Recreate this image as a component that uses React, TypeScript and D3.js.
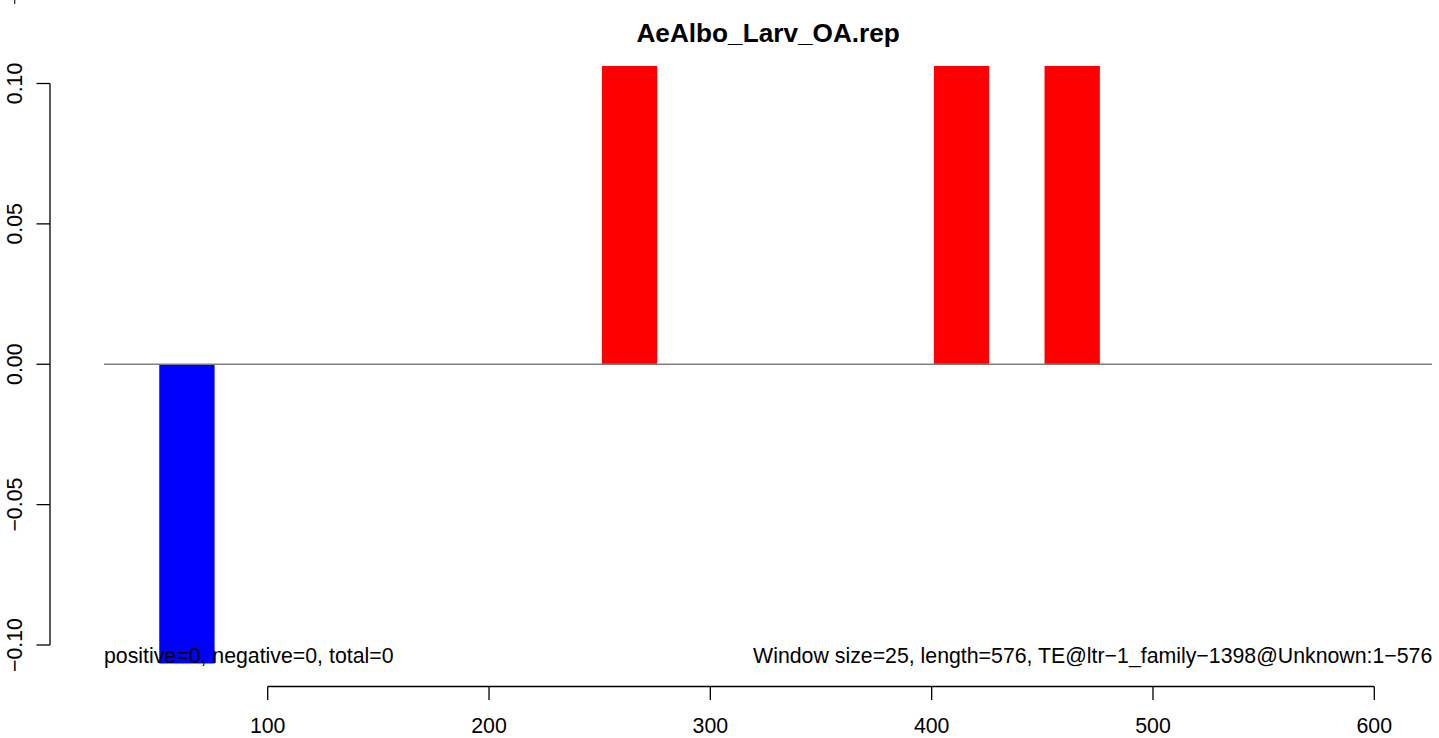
import React from "react";
import * as d3 from "d3";

// ---- data ----
const title = "AeAlbo_Larv_OA.rep";
const windowSize = 25;
const windowStarts = [51, 251, 401, 451];
const windowValues = [-1, 1, 1, 1]; // bars run past the plot region and are clipped
const xTicks = [100, 200, 300, 400, 500, 600];
const yTicks = [-0.1, -0.05, 0, 0.05, 0.1];
const yTickLabels = ["\u22120.10", "\u22120.05", "0.00", "0.05", "0.10"];
const leftNote = "positive=0, negative=0, total=0";
const rightNote = "Window size=25, length=576, TE@ltr\u22121_family\u22121398@Unknown:1\u2212576";

// ---- layout ----
const W = 1439;
const H = 738;
const plot = { left: 104, right: 1432.3, top: 66, bottom: 663.5 };
const FONT = "'Liberation Sans', Arial, Helvetica, sans-serif";
const FS = 21.3;

export default function App() {
  const x = d3.scaleLinear().domain([100, 600]).range([267.7, 1374.3]);
  const y = d3.scaleLinear().domain([-0.1, 0.1]).range([645, 83.5]);
  const axisY = 686.5;
  const axisX = 50;
  const tick = 13.5;

  return (
    <svg
      width={W}
      height={H}
      viewBox={`0 0 ${W} ${H}`}
      style={{ position: "absolute", left: 0, top: 0, background: "#fff", fontFamily: FONT }}
    >
      <defs>
        <clipPath id="plotClip">
          <rect x={plot.left} y={plot.top} width={plot.right - plot.left} height={plot.bottom - plot.top} />
        </clipPath>
      </defs>
      <rect x={0} y={0} width={W} height={H} fill="#fff" />

      {/* stray mark at top-left */}
      <line x1={14.7} x2={14.7} y1={0} y2={4} stroke="#333" strokeWidth={1.3} />

      {/* title */}
      <text x={(plot.left + plot.right) / 2} y={41.5} textAnchor="middle" fontWeight="bold" fontSize={26.2} fill="#000">
        {title}
      </text>

      {/* bars */}
      <g clipPath="url(#plotClip)">
        {windowStarts.map((s, i) => {
          const v = windowValues[i];
          const x0 = x(s);
          const x1 = x(s + windowSize);
          const y0 = y(0);
          const y1 = y(v);
          return (
            <rect
              key={i}
              x={x0}
              y={Math.min(y0, y1)}
              width={x1 - x0}
              height={Math.abs(y1 - y0)}
              fill={v >= 0 ? "#ff0000" : "#0000ff"}
            />
          );
        })}
        <line x1={plot.left} x2={plot.right} y1={y(0)} y2={y(0)} stroke="#7f7f7f" strokeWidth={1.3} />
      </g>

      {/* notes */}
      <text x={plot.left} y={663} fontSize={FS} fill="#000">{leftNote}</text>
      <text x={plot.right} y={663} fontSize={FS} textAnchor="end" fill="#000">{rightNote}</text>

      {/* y axis */}
      <line x1={axisX} x2={axisX} y1={y(0.1)} y2={y(-0.1)} stroke="#000" strokeWidth={1.3} />
      {yTicks.map((t, i) => (
        <g key={i}>
          <line x1={axisX - tick} x2={axisX} y1={y(t)} y2={y(t)} stroke="#000" strokeWidth={1.3} />
          <text
            transform={`translate(21.5,${y(t)}) rotate(-90)`}
            textAnchor="middle"
            fontSize={FS}
            fill="#000"
          >
            {yTickLabels[i]}
          </text>
        </g>
      ))}

      {/* x axis */}
      <line x1={x(100)} x2={x(600)} y1={axisY} y2={axisY} stroke="#000" strokeWidth={1.3} />
      {xTicks.map((t) => (
        <g key={t}>
          <line x1={x(t)} x2={x(t)} y1={axisY} y2={axisY + tick} stroke="#000" strokeWidth={1.3} />
          <text x={x(t)} y={733} textAnchor="middle" fontSize={FS} fill="#000">
            {t}
          </text>
        </g>
      ))}
    </svg>
  );
}
